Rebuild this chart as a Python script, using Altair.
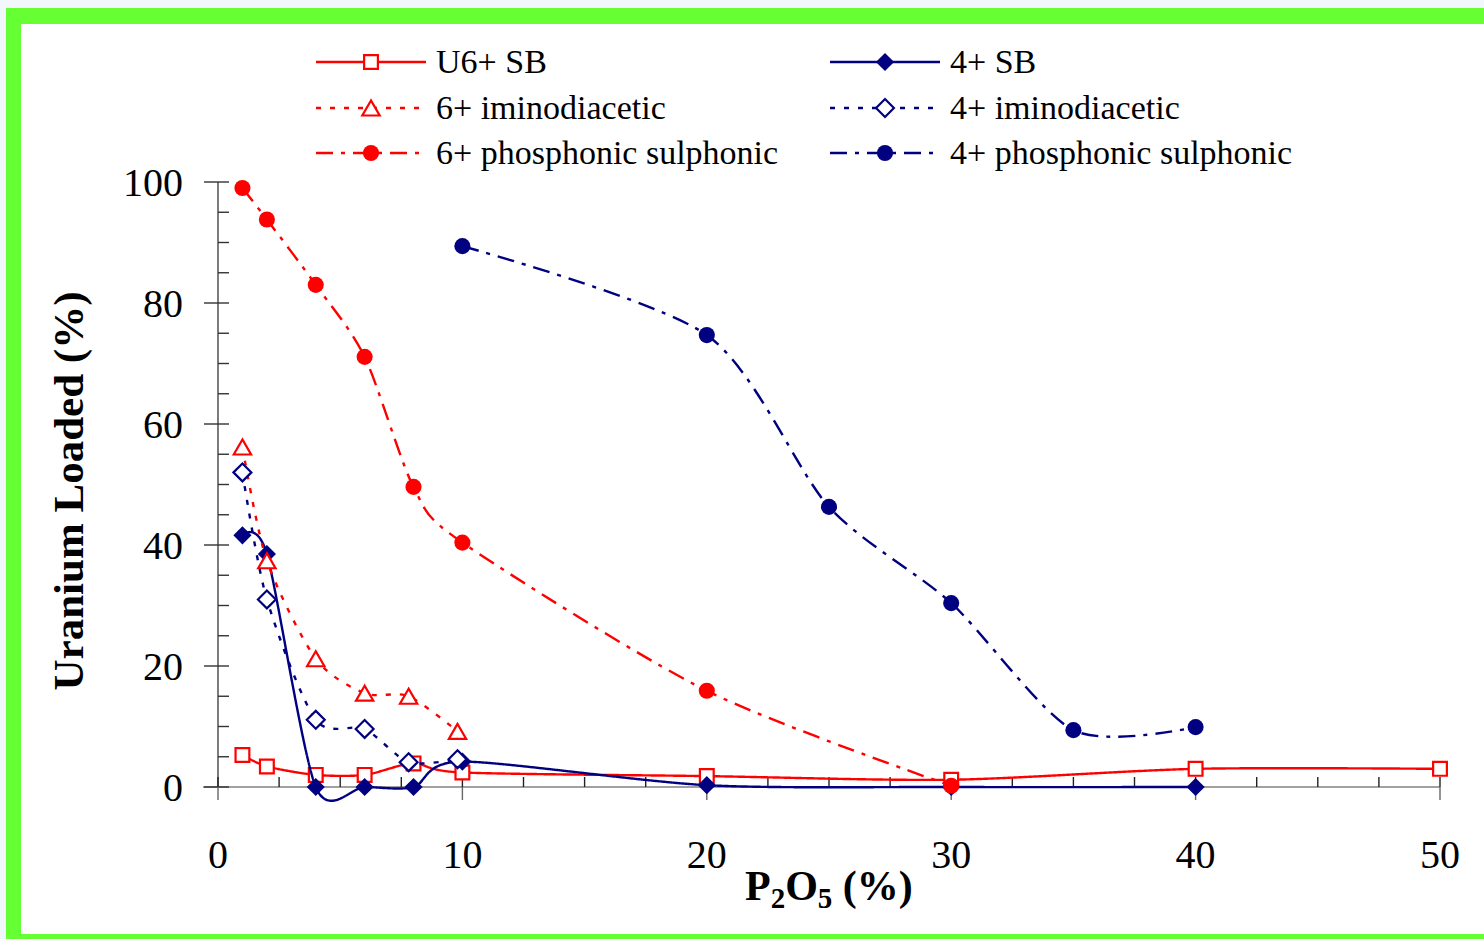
import altair as alt
import pandas as pd

# ---- data: P2O5 concentration (%) vs uranium loaded (%) ----
sb6_p2o5 = [1, 2, 4, 6, 8, 10, 20, 30, 40, 50]
u6_sb = [5.3, 3.4, 2.0, 2.0, 3.9, 2.4, 1.8, 1.2, 3.0, 3.0]

sb4_p2o5 = [1, 2, 4, 6, 8, 10, 20, 30, 40]
u4_sb = [41.6, 38.5, 0.0, 0.0, 0.0, 4.2, 0.3, 0.0, 0.0]

imino_p2o5 = [1, 2, 4, 6, 7.8, 9.8]
u6_imino = [56.2, 37.4, 21.2, 15.5, 15.0, 9.2]
u4_imino = [52.0, 31.0, 11.1, 9.6, 4.1, 4.6]

phos6_p2o5 = [1, 2, 4, 6, 8, 10, 20, 30]
u6_phos = [99.0, 93.8, 83.0, 71.1, 49.6, 40.4, 15.9, 0.2]

phos4_p2o5 = [10, 20, 25, 30, 35, 40]
u4_phos = [89.4, 74.7, 46.3, 30.4, 9.4, 9.9]

# axis tick values
x_major = [0, 10, 20, 30, 40, 50]
x_minor = [0, 2.5, 5, 7.5, 10, 12.5, 15, 17.5, 20, 22.5, 25, 27.5, 30,
           32.5, 35, 37.5, 40, 42.5, 45, 47.5, 50]
y_major = [0, 20, 40, 60, 80, 100]
y_minor = [0, 5, 10, 15, 20, 25, 30, 35, 40, 45, 50, 55, 60, 65, 70, 75,
           80, 85, 90, 95, 100]

y_title = "Uranium Loaded (%)"
# x title pieces: (text, is_subscript)
x_title_parts = [("P", False), ("2", True), ("O", False), ("5", True), (" (%)", False)]

RED = "#ff0000"
NAVY = "#000080"
SERIF = "Liberation Serif, Times New Roman, serif"
W, H = 1222, 605
LW = 2.4

SOLID = [1, 0]
DOTTED = [5, 9]
DASHDOT = [17, 8, 4, 8]

# name, x, y, colour, dash, shape, filled, size, legend column, legend row
series = [
    ("U6+ SB", sb6_p2o5, u6_sb, RED, SOLID, "square", False, 190, 0, 0),
    ("4+ SB", sb4_p2o5, u4_sb, NAVY, SOLID, "diamond", True, 330, 1, 0),
    ("6+ iminodiacetic", imino_p2o5, u6_imino, RED, DOTTED, "triangle-up", False, 300, 0, 1),
    ("4+ iminodiacetic", imino_p2o5, u4_imino, NAVY, DOTTED, "diamond", False, 320, 1, 1),
    ("6+ phosphonic sulphonic", phos6_p2o5, u6_phos, RED, DASHDOT, "circle", True, 260, 0, 2),
    ("4+ phosphonic sulphonic", phos4_p2o5, u4_phos, NAVY, DASHDOT, "circle", True, 260, 1, 2),
]

x_scale = alt.Scale(domain=[0, 50], nice=False, zero=False)
y_scale = alt.Scale(domain=[0, 100], nice=False, zero=False)


def X(field):
    return alt.X(field, scale=x_scale, axis=None)


def Y(field):
    return alt.Y(field, scale=y_scale, axis=None)


one = pd.DataFrame({"k": [0]})
layers = []


# page frame: light backdrop, green border, white panel
def box(x1, x2, y1, y2, color):
    return alt.Chart(one).mark_rect(color=color, opacity=1).encode(
        x=alt.value(x1), x2=alt.value(x2), y=alt.value(y1), y2=alt.value(y2))


layers.append(box(-197, 1266, -158, 752, "white"))
layers.append(box(-212, -197, -174, 757, "#66ff33"))
layers.append(box(-212, 1266, -174, -158, "#66ff33"))
layers.append(box(-212, 1266, 752, 757, "#66ff33"))

# axis lines and tick marks
layers.append(alt.Chart(one).mark_rule(color="#444444", strokeWidth=1.4).encode(
    x=alt.value(0), y=alt.value(0), y2=alt.value(H)))
layers.append(alt.Chart(one).mark_rule(color="#808080", strokeWidth=1.6).encode(
    x=alt.value(-15), x2=alt.value(W), y=alt.value(H)))

ymin_df = pd.DataFrame({"v": y_minor})
ymaj_df = pd.DataFrame({"v": y_major})
xmin_df = pd.DataFrame({"v": x_minor})
xmaj_df = pd.DataFrame({"v": x_major})

layers.append(alt.Chart(ymin_df).mark_rule(color="#333333", strokeWidth=1.4).encode(
    y=Y("v:Q"), x=alt.value(0), x2=alt.value(11)))
layers.append(alt.Chart(ymaj_df).mark_rule(color="#333333", strokeWidth=1.4).encode(
    y=Y("v:Q"), x=alt.value(-14), x2=alt.value(0)))
layers.append(alt.Chart(xmin_df).mark_rule(color="#222222", strokeWidth=1.4).encode(
    x=X("v:Q"), y=alt.value(H - 10), y2=alt.value(H)))
layers.append(alt.Chart(xmaj_df).mark_rule(color="#666666", strokeWidth=1.4).encode(
    x=X("v:Q"), y=alt.value(H), y2=alt.value(H + 13)))

# tick labels
layers.append(alt.Chart(ymaj_df).mark_text(
    font=SERIF, fontSize=40, color="black", align="right", baseline="alphabetic", dy=14
).encode(y=Y("v:Q"), x=alt.value(-35), text=alt.Text("v:Q")))
layers.append(alt.Chart(xmaj_df).mark_text(
    font=SERIF, fontSize=40, color="black", align="center", baseline="alphabetic"
).encode(x=X("v:Q"), y=alt.value(H + 81), text=alt.Text("v:Q")))

# y axis title
layers.append(alt.Chart(one).mark_text(
    text=y_title, font=SERIF, fontSize=43, fontWeight="bold", color="black",
    align="center", baseline="alphabetic", angle=270
).encode(x=alt.value(-135), y=alt.value(309)))

# x axis title, set piece by piece so the digits sit as subscripts
BIG, SMALL = 42, 29
# advance widths (em) of the bold serif glyphs used in the title
adv = {"P": 0.611, "O": 0.778, "2": 0.5, "5": 0.5, " ": 0.25, "(": 0.333, "%": 1.0, ")": 0.333}
cx = 527.0
for txt, sub in x_title_parts:
    fs = SMALL if sub else BIG
    shown = txt.lstrip()
    cx += (len(txt) - len(shown)) * adv[" "] * fs
    layers.append(alt.Chart(one).mark_text(
        text=shown, font=SERIF, fontSize=fs, fontWeight="bold", color="black",
        align="left", baseline="alphabetic"
    ).encode(x=alt.value(cx), y=alt.value(H + (121 if sub else 113))))
    cx += sum(adv[c] for c in shown) * fs


def marker(chart, color, shape, filled, size):
    if filled:
        return chart.mark_point(shape=shape, size=size, filled=True, fill=color,
                                strokeWidth=0, opacity=1, fillOpacity=1)
    return chart.mark_point(shape=shape, size=size, filled=True, fill="white",
                            stroke=color, strokeWidth=2.2, opacity=1, fillOpacity=1)


# data series: smoothed line plus markers
for name, xs, ys, color, dash, shape, filled, size, col, row in series:
    df = pd.DataFrame({"p2o5": xs, "u": ys})
    base = alt.Chart(df).encode(x=X("p2o5:Q"), y=Y("u:Q"))
    layers.append(base.mark_line(color=color, strokeWidth=LW, strokeDash=dash,
                                 interpolate="cardinal", tension=0.2))
    layers.append(marker(base, color, shape, filled, size))

# legend: two columns, three rows above the plot
leg_x = [98, 612]
leg_y = [-120, -74, -29]
for name, xs, ys, color, dash, shape, filled, size, col, row in series:
    x0 = leg_x[col]
    y0 = leg_y[row]
    layers.append(alt.Chart(one).mark_rule(color=color, strokeWidth=LW, strokeDash=dash).encode(
        x=alt.value(x0), x2=alt.value(x0 + 110), y=alt.value(y0)))
    layers.append(marker(alt.Chart(one), color, shape, filled, size).encode(
        x=alt.value(x0 + 55), y=alt.value(y0)))
    layers.append(alt.Chart(one).mark_text(
        text=name, font=SERIF, fontSize=34, color="black", align="left",
        baseline="middle").encode(x=alt.value(x0 + 120), y=alt.value(y0 + 1)))

chart = alt.layer(*layers).properties(
    width=W, height=H,
    padding={"left": 218, "top": 182, "right": 44, "bottom": 152},
    autosize=alt.AutoSizeParams(type="none"),
).configure(background="#f2f7fc").configure_view(stroke=None)

chart.save("out.html", embed_options={"renderer": "svg", "actions": False})
